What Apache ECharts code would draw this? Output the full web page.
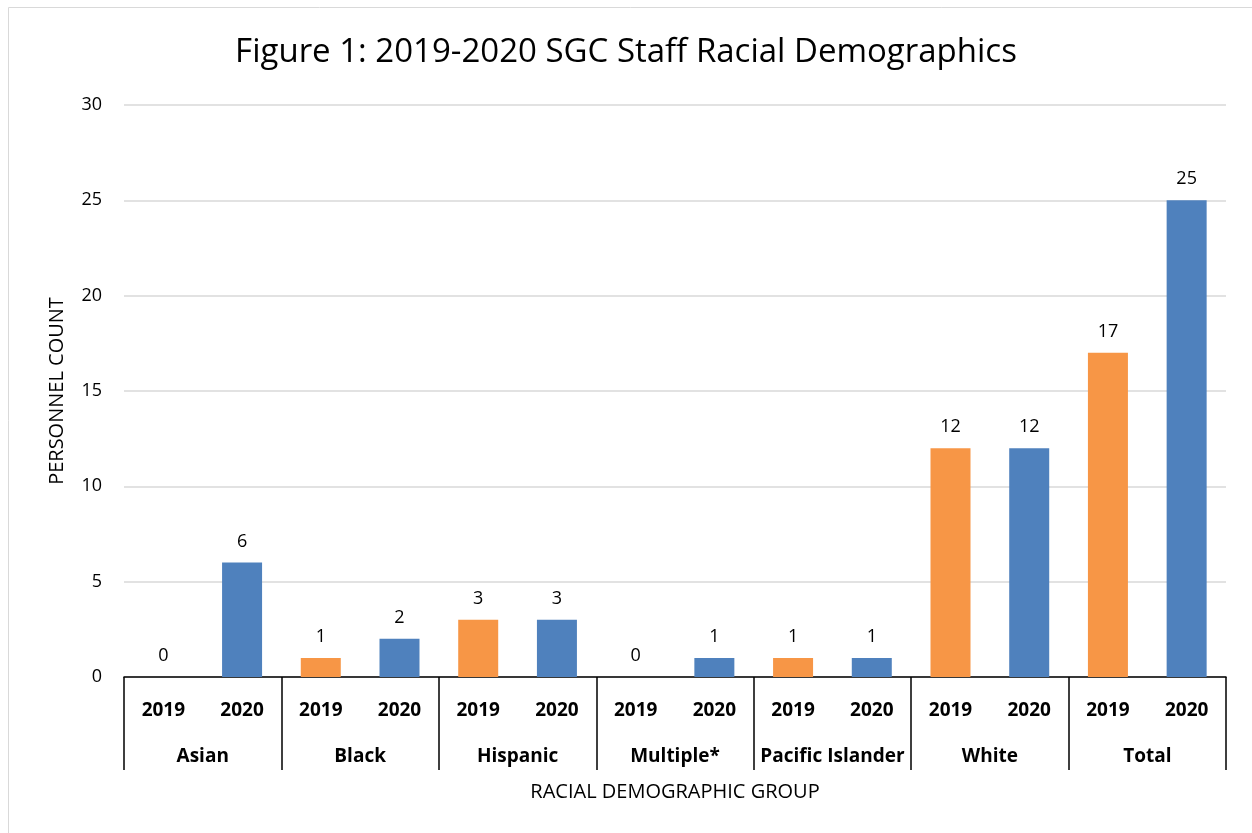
<!DOCTYPE html>
<html>
<head>
<meta charset="utf-8">
<script src="https://cdn.jsdelivr.net/npm/echarts@6/dist/echarts.min.js"></script>
<style>
  html, body { margin: 0; padding: 0; background: #fff; }
  #chart { width: 1252px; height: 833px; }
</style>
</head>
<body>
<div id="chart"></div>
<script>
// 数据
const groups = ["Asian", "Black", "Hispanic", "Multiple*", "Pacific Islander", "White", "Total"];
const years = ["2019", "2020"];
const values2019 = [0, 1, 3, 0, 1, 12, 17];
const values2020 = [6, 2, 3, 1, 1, 12, 25];
const yTicks = [0, 5, 10, 15, 20, 25, 30];

const colors = ["#F79646", "#4F81BD"];
const font = "Open Sans";

// 展开成 14 根柱子
let yearCats = [];
let barData = [];
groups.forEach((g, i) => {
  [values2019[i], values2020[i]].forEach((v, j) => {
    yearCats.push(years[j]);
    barData.push({ value: v, itemStyle: { color: colors[j] } });
  });
});

const chart = echarts.init(document.getElementById("chart"));
const option = {
  animation: false,
  title: {
    text: "Figure 1: 2019-2020 SGC Staff Racial Demographics",
    left: "center",
    top: 31,
    textStyle: { fontFamily: font, fontSize: 33, fontWeight: "normal", color: "#000" },
  },
  graphic: [
    {
      type: "rect",
      shape: { x: 8.5, y: 7.5, width: 1260, height: 840 },
      style: { fill: "none", stroke: "#d9d9d9", lineWidth: 1 },
    },
  ],
  grid: { left: 124, right: 26, top: 105, bottom: 156 },
  xAxis: [
    {
      type: "category",
      data: yearCats,
      axisLine: { show: true, lineStyle: { color: "#000", width: 1.5 } },
      axisTick: { show: false },
      axisLabel: {
        interval: 0,
        margin: 24,
        fontFamily: font,
        fontSize: 19,
        fontWeight: "bold",
        color: "#000",
      },
    },
    {
      type: "category",
      data: groups,
      position: "bottom",
      axisLine: { show: false },
      axisTick: { show: true, length: 93, interval: 0, lineStyle: { color: "#000", width: 1.5 } },
      axisLabel: {
        interval: 0,
        margin: 70,
        fontFamily: font,
        fontSize: 19,
        fontWeight: "bold",
        color: "#000",
      },
      name: "RACIAL DEMOGRAPHIC GROUP",
      nameLocation: "middle",
      nameGap: 105,
      nameTextStyle: { fontFamily: font, fontSize: 20, color: "#000" },
    },
  ],
  yAxis: {
    type: "value",
    min: yTicks[0],
    max: yTicks[yTicks.length - 1],
    interval: 5,
    axisLine: { show: false },
    axisTick: { show: false },
    splitLine: { lineStyle: { color: "#d9d9d9", width: 1.5 } },
    axisLabel: { fontFamily: font, fontSize: 18, color: "#000", margin: 22 },
    name: "PERSONNEL COUNT",
    nameLocation: "middle",
    nameGap: 57,
    nameRotate: 90,
    nameTextStyle: { fontFamily: font, fontSize: 20, color: "#000" },
  },
  series: [
    {
      type: "bar",
      xAxisIndex: 0,
      barWidth: 40,
      data: barData,
      label: {
        show: true,
        position: "top",
        distance: 12,
        fontFamily: font,
        fontSize: 18,
        color: "#000",
      },
    },
  ],
};
chart.setOption(option);
</script>
</body>
</html>
